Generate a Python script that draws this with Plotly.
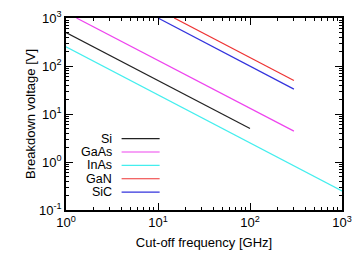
import plotly.graph_objects as go

names = ["Si", "GaAs", "InAs", "GaN", "SiC"]
colors = ["#222222", "#ee44ee", "#44eeee", "#ee3333", "#3333dd"]
freq = [[1, 100], [1.3, 300], [1, 1000], [15, 300], [10, 300]]
volt = [[500, 5], [1000, 4.4], [250, 0.25], [1000, 50], [1000, 33]]

x_tickvals = [1, 10, 100, 1000]
x_ticktext = ["10<sup>0</sup>", "10<sup>1</sup>", "10<sup>2</sup>", "10<sup>3</sup>"]
y_tickvals = [0.1, 1, 10, 100, 1000]
y_ticktext = ["10<sup>-1</sup>", "10<sup>0</sup>", "10<sup>1</sup>", "10<sup>2</sup>", "10<sup>3</sup>"]

x_minor = [m * d for d in x_tickvals[:-1] for m in range(2, 10)]
y_minor = [m * d for d in y_tickvals[:-1] for m in range(2, 10)]

W, H = 361, 257
ml, mr, mt, mb = 66, 12, 9, 47
pw, ph = W - ml - mr, H - mt - mb

fig = go.Figure()
for i, (n, c, x, y) in enumerate(zip(names, colors, freq, volt)):
    # one series is placed on the overlaid minor-tick axes (same ranges) so they render
    ax = dict(xaxis="x2", yaxis="y2") if i == 2 else {}
    fig.add_trace(go.Scatter(x=x, y=y, mode="lines", name=n,
                             line=dict(color=c, width=1.2), showlegend=False, **ax))

# manual gnuplot-style legend (text right, sample line on the right)
leg_y0 = 135.3
leg_dy = 14.0
for i, (n, c) in enumerate(zip(names, colors)):
    py = leg_y0 + i * leg_dy
    yp = 1 - (py - mt) / ph
    x_text = (114 - ml) / pw
    x0 = (123 - ml) / pw
    x1 = (162 - ml) / pw
    fig.add_annotation(x=x_text, y=yp, xref="paper", yref="paper", text=n,
                       showarrow=False, xanchor="right", yanchor="middle",
                       borderpad=0, font=dict(size=12.5, color="black"))
    fig.add_shape(type="line", xref="paper", yref="paper", x0=x0, x1=x1,
                  y0=yp, y1=yp, line=dict(color=c, width=1.2))

axis_common = dict(type="log", showgrid=False, zeroline=False,
                   showline=True, linecolor="black", linewidth=1.5, mirror="ticks",
                   ticks="inside", tickwidth=1, tickcolor="black",
                   tickfont=dict(size=13, color="black"))

fig.update_layout(
    width=W, height=H,
    margin=dict(l=ml, r=mr, t=mt, b=mb),
    plot_bgcolor="white", paper_bgcolor="white",
    font=dict(family="Liberation Sans, Arial, sans-serif", size=13, color="black"),
    xaxis=dict(axis_common, range=[0, 3], tickvals=x_tickvals, ticktext=x_ticktext,
               ticklen=7,
               title=dict(text="Cut-off frequency [GHz]", font=dict(size=13), standoff=9)),
    yaxis=dict(axis_common, range=[-1, 3], tickvals=y_tickvals, ticktext=y_ticktext,
               ticklen=7,
               title=dict(text="Breakdown voltage [V]", font=dict(size=13), standoff=1)),
    xaxis2=dict(axis_common, range=[0, 3], overlaying="x", side="bottom",
                anchor="y2", tickvals=x_minor, ticklen=3, showticklabels=False),
    yaxis2=dict(axis_common, range=[-1, 3], overlaying="y", side="left",
                anchor="x2", tickvals=y_minor, ticklen=3, showticklabels=False),
)

fig.write_html("out.html")
